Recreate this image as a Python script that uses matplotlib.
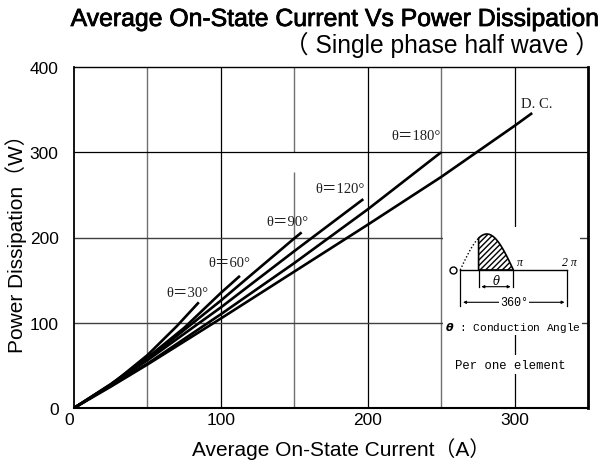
import matplotlib
matplotlib.use('Agg')
import matplotlib.pyplot as plt
import matplotlib.patheffects as pe
import numpy as np
from matplotlib.patches import Rectangle, Polygon, FancyArrowPatch

# ---------------- data ----------------
theta30_I = [0, 25, 50, 70, 85]
theta30_P = [0, 27, 62, 96, 124]
theta60_I = [0, 25, 50, 75, 100, 113]
theta60_P = [0, 28, 59, 94, 135, 155]
theta90_I = [0, 25, 50, 100, 150, 155]
theta90_P = [0, 27.5, 57, 126, 199, 206]
theta120_I = [0, 25, 50, 100, 150, 197]
theta120_P = [0, 27, 56, 118, 184, 245]
theta180_I = [0, 25, 50, 100, 150, 200, 250]
theta180_P = [0, 26, 52, 110, 170, 233, 300]
dc_I = [0, 25, 50, 100, 150, 200, 250, 300, 312]
dc_P = [0, 25, 51, 105, 160, 215, 271, 331, 346]

curve_labels = ['θ＝30°', 'θ＝60°', 'θ＝90°', 'θ＝120°', 'θ＝180°', 'D. C.']
x_ticks = [0, 100, 200, 300]
y_ticks = [0, 100, 200, 300, 400]

W, H = 602, 464
fig = plt.figure(figsize=(W / 100, H / 100), dpi=100)
# axes box: left 74, right 588, top 68, bottom 409 (pixels)
L, R, T, B = 74, 588, 68, 409
ax = fig.add_axes([L / W, (H - B) / H, (R - L) / W, (B - T) / H])
ax.set_xlim(0, 350)
ax.set_ylim(0, 400)

sans = ['Liberation Sans', 'DejaVu Sans']
serif = ['Liberation Serif', 'Noto Sans CJK JP', 'DejaVu Sans']
mono = ['Liberation Mono', 'DejaVu Sans']
cjk_sans = ['Liberation Sans', 'Noto Sans CJK JP', 'DejaVu Sans']

# ---------------- grid (manual, with gaps like the reference) ----------------
gcol_dark = '#000000'
gcol_gray = '#707070'
def vline(x, y0, y1, c, lw=1.0):
    ax.plot([x, x], [y0, y1], color=c, lw=lw, zorder=1, solid_capstyle='butt')
def hline(y, x0, x1, c, lw=1.0):
    ax.plot([x0, x1], [y, y], color=c, lw=lw, zorder=1, solid_capstyle='butt')

vline(50, 0, 400, gcol_gray)
vline(100, 0, 400, gcol_dark, 0.9)
vline(150, 0, 277, gcol_gray)
vline(150, 300, 400, gcol_gray)
vline(200, 0, 400, gcol_dark, 0.9)
vline(250, 0, 400, gcol_gray)
vline(300, 0, 400, gcol_dark, 0.9)
hline(100, 0, 350, '#404040')
hline(200, 0, 350, '#404040')
hline(300, 0, 350, gcol_dark, 0.9)

# white area behind the inset diagram
ax.add_patch(Rectangle((251.3, 90), 93.5, 122, facecolor='white', edgecolor='none', zorder=2))

# ---------------- curves ----------------
series = [(theta30_I, theta30_P), (theta60_I, theta60_P), (theta90_I, theta90_P),
          (theta120_I, theta120_P), (theta180_I, theta180_P), (dc_I, dc_P)]
for xs, ys in series:
    ax.plot(xs, ys, color='black', lw=1.9, zorder=4, solid_capstyle='butt')

label_pos = [(77, 135.5), (106, 171), (145.5, 219), (181, 257), (233, 320), (315, 357.5)]
for txt, (x, y) in zip(curve_labels, label_pos):
    ax.text(x, y, txt, fontsize=10.5, family=serif, ha='center', va='center',
            color='#202020', zorder=5)

# ---------------- inset diagram ----------------
x0, xpi, x2pi = 263.0, 299.2, 335.9
yb, amp = 161.9, 42.2
xs_on = 275.5
ax.plot([x0, x2pi], [yb, yb], color='black', lw=1.0, zorder=5)
t = np.linspace(x0, xs_on, 40)
ax.plot(t, yb + amp * np.sin(np.pi * (t - x0) / (xpi - x0)), color='black', lw=1.0,
        ls=(0, (1, 1.5)), zorder=5)
t2 = np.linspace(xs_on, xpi, 60)
s2 = yb + amp * np.sin(np.pi * (t2 - x0) / (xpi - x0))
poly = np.column_stack([np.r_[xs_on, t2, xpi], np.r_[yb, s2, yb]])
ax.add_patch(Polygon(poly, closed=True, facecolor='white', edgecolor='black',
                     hatch='//////', lw=1.2, zorder=5))
ax.plot([257.8], [161.5], marker='o', ms=5, mfc='white', mec='black', mew=1.0, zorder=5)
ax.text(303.5, 171.3, 'π', fontsize=8.5, family=serif, style='italic', ha='center', va='center', zorder=5)
ax.text(337, 171.3, '2 π', fontsize=8.5, family=serif, style='italic', ha='center', va='center', zorder=5)
for xx in (xs_on, xpi):
    ax.plot([xx, xx], [yb, 141.5], color='black', lw=0.9, zorder=5)
ax.add_patch(FancyArrowPatch((xs_on, 142.3), (xpi, 142.3), arrowstyle='<|-|>',
                             mutation_scale=4, color='black', lw=0.8, zorder=5))
ax.text((xs_on + xpi) / 2, 149.5, 'θ', fontsize=8.5, family=['DejaVu Serif'],
        style='italic', ha='center', va='center', zorder=5)
for xx in (x0, x2pi):
    ax.plot([xx, xx], [yb, 119.5], color='black', lw=0.9, zorder=5)
ax.add_patch(FancyArrowPatch((x0, 124), (x2pi, 124), arrowstyle='<|-|>',
                             mutation_scale=4, color='black', lw=0.8, zorder=5))
ax.text(299.5, 124, '360°', fontsize=8.5, family=mono, ha='center', va='center', zorder=6,
        bbox=dict(facecolor='white', edgecolor='none', pad=0.5))
ax.text(298.7, 95.5, r'$\boldsymbol{\theta}$ : Conduction Angle', fontsize=8.0, family=mono,
        ha='center', va='center', zorder=6,
        bbox=dict(facecolor='white', edgecolor='none', pad=1.0))
ax.text(297, 51, 'Per one element', fontsize=8.8, family=mono, ha='center', va='center',
        zorder=6, bbox=dict(facecolor='white', edgecolor='none', pad=2.5))

# ---------------- axes styling ----------------
ax.set_xticks(x_ticks)
ax.set_yticks(y_ticks)
ax.set_xticklabels([str(v) for v in x_ticks], fontsize=12.5, family=sans)
ax.set_yticklabels([str(v) for v in y_ticks], fontsize=12.5, family=sans)
ax.tick_params(axis='both', length=0)
ax.tick_params(axis='x', pad=3)
ax.tick_params(axis='y', pad=11)
ax.get_xticklabels()[0].set_horizontalalignment('right')
for s in ax.spines.values():
    s.set_color('black')
ax.spines['left'].set_linewidth(1.3)
ax.spines['bottom'].set_linewidth(1.5)
ax.spines['top'].set_linewidth(1.0)
ax.spines['right'].set_linewidth(2.0)

ax.set_xlabel('Average On-State Current（A）', fontsize=15, family=cjk_sans)
ax.xaxis.set_label_coords(0.5 + 10 / (R - L), -29 / (B - T))
ax.set_ylabel('Power Dissipation（W）', fontsize=15, family=cjk_sans, labelpad=2)

t1 = fig.text(597 / W, 1 - 20 / H, 'Average On-State Current Vs Power Dissipation',
              fontsize=17, family=sans, ha='right', va='center',
              path_effects=[pe.withStroke(linewidth=0.55, foreground='black')])
t2 = fig.text(600 / W, 1 - 45 / H, '（ Single phase half wave ）', fontsize=14,
              family=cjk_sans, ha='right', va='center')
fig.canvas.draw()
r = fig.canvas.get_renderer()
for tt, target in ((t1, 529), (t2, 318)):
    w = tt.get_window_extent(r).width
    tt.set_fontsize(tt.get_fontsize() * target / w)

fig.savefig('out.png', dpi=100)
